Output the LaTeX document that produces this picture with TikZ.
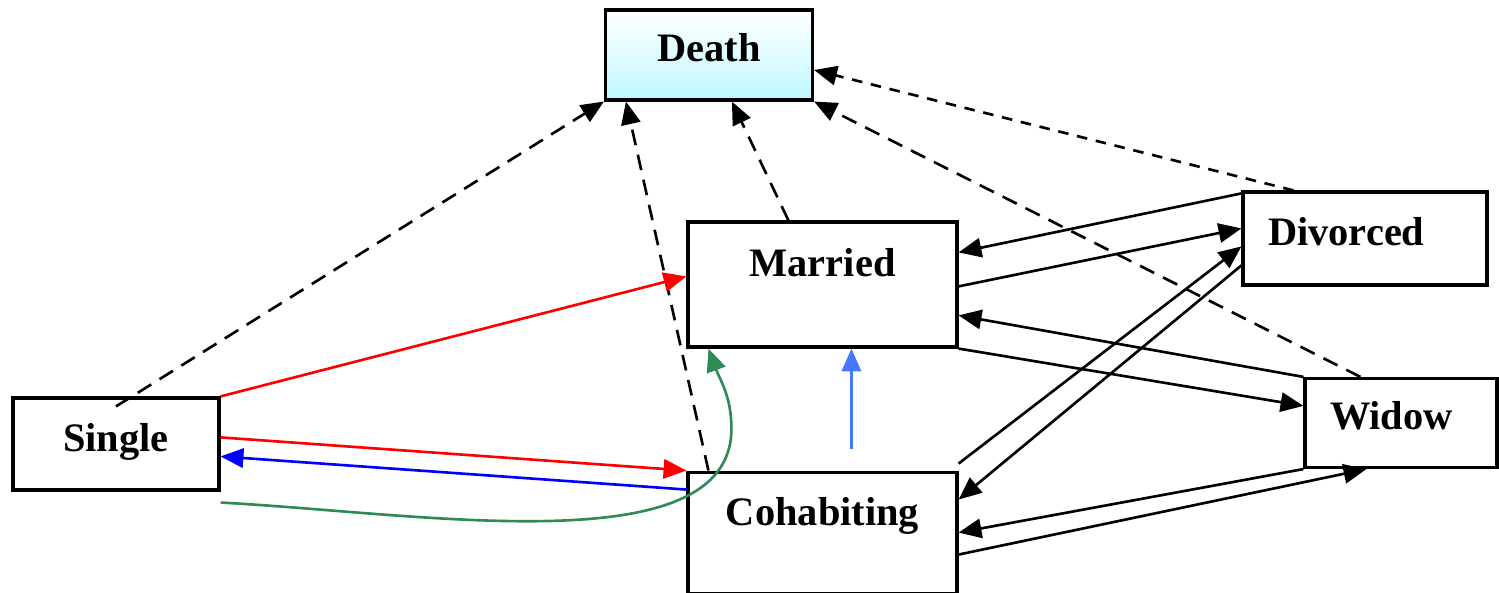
\documentclass[tikz,border=0pt]{standalone}
\usepackage{fontspec}
\setmainfont{Liberation Serif}
\usetikzlibrary{arrows.meta,positioning}
\definecolor{deathtop}{RGB}{255,255,255}
\definecolor{deathbot}{RGB}{190,248,255}
\definecolor{marryred}{RGB}{255,0,0}
\definecolor{backblue}{RGB}{0,0,255}
\definecolor{cohabgreen}{RGB}{46,139,87}
\definecolor{upblue}{RGB}{70,120,255}
\tikzstyle{status} = [rectangle, draw, line width=0.9pt, fill=white, inner sep=0pt, font=\fontsize{11.5}{13}\selectfont\bfseries]
\tikzstyle{leftbox} = [status, inner xsep=0.25cm, align=left]
\tikzstyle{exit} = [dash pattern=on 4.5pt off 2.8pt]

\begin{document}
\begin{tikzpicture}[->,>={Triangle[length=6.5pt,width=5.5pt]},line width=0.75pt]
  \useasboundingbox (0,0) rectangle (14.99,5.93);
  \node[status, top color=deathtop, bottom color=deathbot, minimum width=2.07cm, text height=0.52cm, text depth=0.38cm] (Death) at (7.09,5.38) {Death};
  \node[status, minimum width=2.69cm, text height=0.55cm, text depth=0.70cm] (Married) at (8.225,3.085) {Married};
  \node[status, minimum width=2.69cm, text height=0.53cm, text depth=0.68cm] (Cohabiting) [below=1.22cm of Married] {Cohabiting};
  \node[status, minimum width=2.06cm, text height=0.54cm, text depth=0.38cm] (Single) at (1.16,1.49) {Single};
  \node[leftbox, text width=1.94cm, text height=0.54cm, text depth=0.39cm] (Divorced) at (13.65,3.545) {Divorced};
  \node[leftbox, text width=1.42cm, text height=0.51cm, text depth=0.38cm] (Widow) at (14.01,1.70) {Widow};

  % transitions to death
  \draw[exit] ([yshift=-0.10cm]Single.north) -- (Death.south west);
  \draw[exit] ([xshift=0.22cm]Cohabiting.north west) -- ([xshift=0.22cm]Death.south west);
  \draw[exit] ([xshift=1.02cm]Married.north west) -- ([xshift=1.28cm]Death.south west);
  \draw[exit] ([xshift=0.57cm]Widow.north west) -- (Death.south east);
  \draw[dash pattern=on 3pt off 2.5pt] ([xshift=0.52cm]Divorced.north west) -- ([yshift=-0.15cm]Death.east);

  % divorced and widow
  \draw ([yshift=-0.03cm]Divorced.north west) -- ([yshift=-0.32cm]Married.north east);
  \draw ([yshift=-0.66cm]Married.north east) -- ([yshift=-0.38cm]Divorced.north west);
  \draw ([yshift=0.07cm]Cohabiting.north east) -- ([yshift=-0.56cm]Divorced.north west);
  \draw ([yshift=-0.75cm]Divorced.north west) -- ([yshift=-0.29cm]Cohabiting.north east);
  \draw (Widow.north west) -- ([yshift=-0.95cm]Married.north east);
  \draw (Married.south east) -- ([yshift=-0.29cm]Widow.north west);
  \draw (Widow.south west) -- ([yshift=-0.62cm]Cohabiting.north east);
  \draw ([yshift=-0.84cm]Cohabiting.north east) -- ([xshift=0.63cm]Widow.south west);

  % from single
  \draw[marryred] (Single.north east) -- ([yshift=-0.56cm]Married.north west);
  \draw[marryred] ([yshift=-0.41cm]Single.north east) -- (Cohabiting.north west);
  \draw[backblue] ([yshift=-0.19cm]Cohabiting.north west) -- ([yshift=-0.60cm]Single.north east);
  \draw[cohabgreen] ([yshift=-0.11cm]Single.south east) to[out=-3,in=-90,in looseness=0.68] ([xshift=0.45cm,yshift=0.42cm]Cohabiting.north west) to[out=90,in=-70] ([xshift=0.22cm]Married.south west);
  \draw[upblue] ([xshift=1.65cm,yshift=0.22cm]Cohabiting.north west) -- ([xshift=1.65cm]Married.south west);
\end{tikzpicture}
\end{document}
